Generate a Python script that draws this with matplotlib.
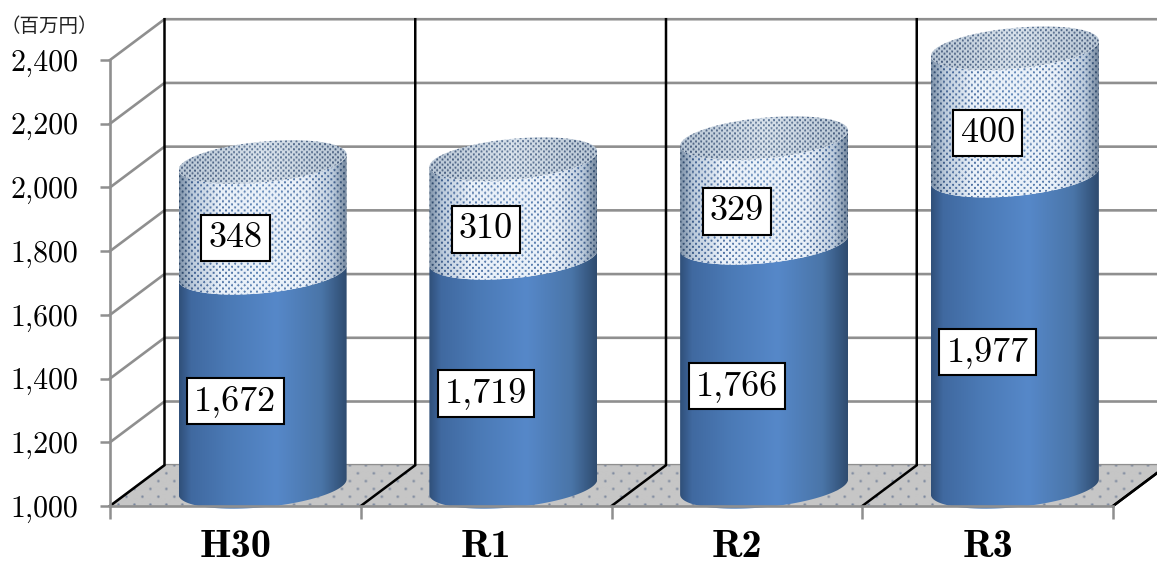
import numpy as np
import matplotlib
matplotlib.use("Agg")
import matplotlib.pyplot as plt
from matplotlib.colors import to_rgb
from matplotlib.patches import PathPatch
from matplotlib.path import Path

categories = ["H30", "R1", "R2", "R3"]
lower_values = [1672, 1719, 1766, 1977]
upper_values = [348, 310, 329, 400]
y_ticks = [1000, 1200, 1400, 1600, 1800, 2000, 2200, 2400]
unit_label = "（百万円）"

GRID = "#8f8f8f"
BASE = 1000
DEPTH_X = 54.5 / 250.75
DEPTH_Y = 128
RADIUS_X = 84 / 250.75
RADIUS_Y = 64
TILT = 24
PX_PER_UNIT = 446 / 1400

plt.rcParams["font.family"] = ["cmr10", "DejaVu Serif"]

fig = plt.figure(figsize=(11.57, 5.69), dpi=100)
ax = fig.add_axes([110 / 1157, 63 / 569, 1003 / 1157, 446 / 569])


def gradient(n, stops, colors):
    rgb = np.array([to_rgb(c) for c in colors])
    pos = np.linspace(0, 1, n)
    return np.stack([np.interp(pos, stops, rgb[:, i]) for i in range(3)], axis=1)


def dots(w, h, step, cut, soft):
    yy, xx = np.mgrid[0:h, 0:w]
    wave = np.cos(2 * np.pi * xx / step) * np.cos(2 * np.pi * yy / step)
    return np.clip((wave - cut) / soft, 0, 1)[..., None]


def arc(cx, cy, start, stop):
    t = np.linspace(start, stop, 60)
    return cx + RADIUS_X * np.cos(t), cy + RADIUS_Y * np.sin(t) + TILT * np.cos(t)


def show_clipped(img, extent, path, zorder):
    im = ax.imshow(img, extent=extent, aspect="auto", interpolation="bilinear",
                   origin="upper", zorder=zorder)
    im.set_clip_path(PathPatch(path, transform=ax.transData))
    im.set_clip_box(fig.bbox)


def side(cx, v0, v1, img, zorder):
    # body between the front arcs of two heights
    x0, y0 = arc(cx, v0, np.pi, 2 * np.pi)
    x1, y1 = arc(cx, v1, 2 * np.pi, np.pi)
    verts = np.column_stack([np.r_[x0, x1], np.r_[y0, y1]])
    ext = (cx - RADIUS_X, cx + RADIUS_X, v0 - 90, v1 + 90)
    show_clipped(img(int((v1 - v0 + 180) * PX_PER_UNIT)), ext, Path(verts), zorder)


def blue_body(h):
    row = gradient(168, [0, 0.07, 0.3, 0.58, 0.85, 1],
                   ["#30507a", "#4069a0", "#4b7ab6", "#5688c9", "#4a75a8", "#2f4c70"])
    return np.repeat(row[None, :, :], h, axis=0)


def dotted_body(h):
    paper = gradient(168, [0, 0.08, 0.25, 0.75, 0.92, 1],
                     ["#7f93aa", "#bccbdc", "#eaf1f9", "#eaf1f9", "#bccbdc", "#76899f"])
    ink = gradient(168, [0, 0.1, 0.5, 0.9, 1],
                   ["#2e4766", "#48699a", "#6389b9", "#48699a", "#2e4766"])
    mask = dots(168, h, 6.2, 0.25, 0.45)
    return paper[None, :, :] * (1 - mask) + ink[None, :, :] * mask


def dotted_top(h):
    paper = gradient(168, [0, 0.5, 1], ["#bac8d6", "#dae3ec", "#bac8d6"])
    ink = gradient(168, [0, 0.5, 1], ["#44597a", "#5f7899", "#44597a"])
    mask = dots(168, h, 5.2, 0.05, 0.6)
    return paper[None, :, :] * (1 - mask) + ink[None, :, :] * mask


# back wall and side wall
x_left, x_right = -0.5, 3.5
for v in y_ticks:
    ax.plot([x_left, x_left + DEPTH_X, x_right + DEPTH_X], [v, v + DEPTH_Y, v + DEPTH_Y],
            color=GRID, lw=1.9, clip_on=False, zorder=1, solid_joinstyle="miter")

# floor
floor = [(x_left, BASE), (x_left + DEPTH_X, BASE + DEPTH_Y),
         (x_right + DEPTH_X, BASE + DEPTH_Y), (x_right, BASE)]
fw, fh = 1060, 42
floor_dots = dots(fw, fh, 16, 0.8, 0.2)
floor_img = np.array(to_rgb("#c6c6c6")) * (1 - floor_dots) + np.array(to_rgb("#76839a")) * floor_dots
show_clipped(floor_img, (x_left, x_right + DEPTH_X, BASE, BASE + DEPTH_Y), Path(floor + floor[:1]), 1.2)

# black dividers on the back wall and floor
for i in range(5):
    xb = x_left + i
    ax.plot([xb, xb + DEPTH_X, xb + DEPTH_X], [BASE, BASE + DEPTH_Y, max(y_ticks) + DEPTH_Y],
            color="black", lw=1.8, clip_on=False, zorder=1.5, solid_joinstyle="miter")

# stacked cylinders
for i, (low, up) in enumerate(zip(lower_values, upper_values)):
    cx = i + DEPTH_X / 2
    offset = DEPTH_Y / 2 - 4
    side(cx, BASE + offset, low + offset, blue_body, 3)
    side(cx, low + offset, low + up + offset, dotted_body, 3.1)
    tx, ty = arc(cx, low + up + offset, 0, 2 * np.pi)
    ext = (cx - RADIUS_X, cx + RADIUS_X, low + up + offset - 90, low + up + offset + 90)
    show_clipped(dotted_top(int(180 * PX_PER_UNIT)), ext, Path(np.column_stack([tx, ty])), 3.2)

    box = dict(boxstyle="square,pad=0.2", fc="white", ec="black", lw=1.5)
    ax.text(i, BASE + (low - BASE) / 2 - 6, f"{low:,}", ha="center", va="center",
            fontsize=26, bbox=box, zorder=5)
    ax.text(i, low + up / 2 - 6, f"{up:,}", ha="center", va="center",
            fontsize=26, bbox=box, zorder=5)

ax.set_xlim(x_left, x_right)
ax.set_ylim(BASE, max(y_ticks))
for name in ("top", "right"):
    ax.spines[name].set_visible(False)
for name in ("left", "bottom"):
    ax.spines[name].set_color(GRID)
    ax.spines[name].set_linewidth(1.9)
    ax.spines[name].set_zorder(4)

ax.set_yticks(y_ticks)
ax.set_yticklabels([f"{v:,}" for v in y_ticks], va="center_baseline")
ax.tick_params(axis="y", length=7, width=1.8, color=GRID, labelsize=21.5, pad=16)
ax.set_xticks(range(len(categories)))
ax.set_xticklabels(categories, fontsize=29, family=["cmb10", "DejaVu Serif"])
ax.set_xticks(np.arange(x_left, x_right + 1), minor=True)
ax.tick_params(axis="x", which="major", length=0, pad=17.5)
ax.tick_params(axis="x", which="minor", length=9, width=1.8, color=GRID)

# right-hand floor edge
ax.plot([x_right, x_right + DEPTH_X], [BASE, BASE + DEPTH_Y], color="black", lw=1.8,
        clip_on=False, zorder=1.6)

fig.text(49 / 1157, 1 - 26 / 569, unit_label, ha="center", va="center", fontsize=14,
         family=["Noto Sans CJK JP", "DejaVu Sans"], color="#222222")

fig.savefig("out.png", dpi=100)
